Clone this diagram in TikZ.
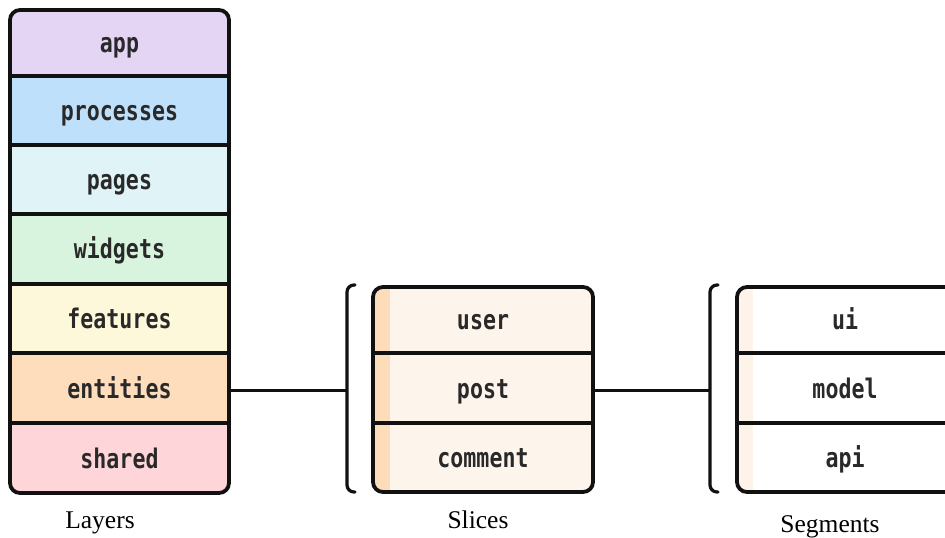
\documentclass[tikz,border=0pt]{standalone}
\usepackage{fontspec}
\setmainfont{Liberation Serif}
\newfontfamily\boxfont[FakeStretch=0.8]{DejaVu Sans Mono Bold}

\definecolor{appc}{HTML}{E4D5F5}
\definecolor{procc}{HTML}{BFE0FA}
\definecolor{pagec}{HTML}{E0F3F7}
\definecolor{widgc}{HTML}{D9F4DE}
\definecolor{featc}{HTML}{FEF8DB}
\definecolor{entc}{HTML}{FEDDBD}
\definecolor{shrc}{HTML}{FED5D8}
\definecolor{slicefill}{HTML}{FDF4EC}
\definecolor{slicestrip}{HTML}{FCDCB9}
\definecolor{segstrip}{HTML}{FEF3E8}
\definecolor{ink}{HTML}{111111}

\tikzset{
  rowtext/.style={font=\boxfont\fontsize{27}{27}\selectfont, text=ink!90, inner sep=0pt, anchor=base},
  caption/.style={font=\fontsize{25.5}{26}\selectfont, text=black, inner sep=0pt, anchor=base},
  frame/.style={draw=ink, line width=3.8pt, rounded corners=10pt},
  divider/.style={draw=ink, line width=3.4pt},
  link/.style={draw=ink, line width=3pt},
  brace/.style={draw=ink, line width=3.2pt, rounded corners=7pt, line cap=round},
}

\begin{document}
\begin{tikzpicture}[x=1pt, y=-1pt]
\useasboundingbox (0,0) rectangle (945,538);
\clip (0,0) rectangle (945,538);

% ---------- Layers ----------
\begin{scope}
  \clip[rounded corners=10pt] (10,10) rectangle (229,493);
  \fill[appc]  (10,10)  rectangle (229,76);
  \fill[procc] (10,76)  rectangle (229,145);
  \fill[pagec] (10,145) rectangle (229,214);
  \fill[widgc] (10,214) rectangle (229,284);
  \fill[featc] (10,284) rectangle (229,353);
  \fill[entc]  (10,353) rectangle (229,423);
  \fill[shrc]  (10,423) rectangle (229,493);
\end{scope}
\foreach \yy in {76,145,214,284,353,423}
  \draw[divider] (10,\yy) -- (229,\yy);
\draw[frame] (10,10) rectangle (229,493);

\node[rowtext] (app)       at (119.5,52)  {app};
\node[rowtext] (processes) at (119.5,120) {processes};
\node[rowtext] (pages)     at (119.5,189) {pages};
\node[rowtext] (widgets)   at (119.5,258) {widgets};
\node[rowtext] (features)  at (119.5,328) {features};
\node[rowtext] (entities)  at (119.5,398) {entities};
\node[rowtext] (shared)    at (119.5,468) {shared};
\coordinate (entitiesR) at (229,390);

% ---------- Slices ----------
\begin{scope}
  \clip[rounded corners=10pt] (373,287) rectangle (593,492);
  \fill[slicefill]  (373,287) rectangle (593,492);
  \fill[slicestrip] (373,287) rectangle (390,492);
\end{scope}
\foreach \yy in {353,423}
  \draw[divider] (373,\yy) -- (593,\yy);
\draw[frame] (373,287) rectangle (593,492);

\node[rowtext] (user)    at (483,329) {user};
\node[rowtext] (post)    at (483,398) {post};
\node[rowtext] (comment) at (483,467) {comment};
\coordinate (slicesL) at (347,390);
\coordinate (slicesR) at (593,390);
\draw[brace] (355,285) -- (347,285) -- (347,492) -- (355,492);

% ---------- Segments ----------
\begin{scope}
  \clip[rounded corners=10pt] (737,287) rectangle (955,492);
  \fill[white]    (737,287) rectangle (955,492);
  \fill[segstrip] (737,287) rectangle (753,492);
\end{scope}
\foreach \yy in {353,423}
  \draw[divider] (737,\yy) -- (955,\yy);
\draw[frame] (737,287) rectangle (955,492);

\node[rowtext] (ui)    at (845,329) {ui};
\node[rowtext] (model) at (845,398) {model};
\node[rowtext] (api)   at (845,467) {api};
\coordinate (segsL) at (710,390);
\draw[brace] (718,285) -- (710,285) -- (710,492) -- (718,492);

% ---------- Connectors ----------
\draw[link] (entitiesR) -- (slicesL);
\draw[link] (slicesR) -- (segsL);

% ---------- Captions ----------
\node[caption] (layers)   at (100,528) {Layers};
\node[caption] (slices)   at (478,528) {Slices};
\node[caption] (segments) at (830,532) {Segments};
\end{tikzpicture}
\end{document}
